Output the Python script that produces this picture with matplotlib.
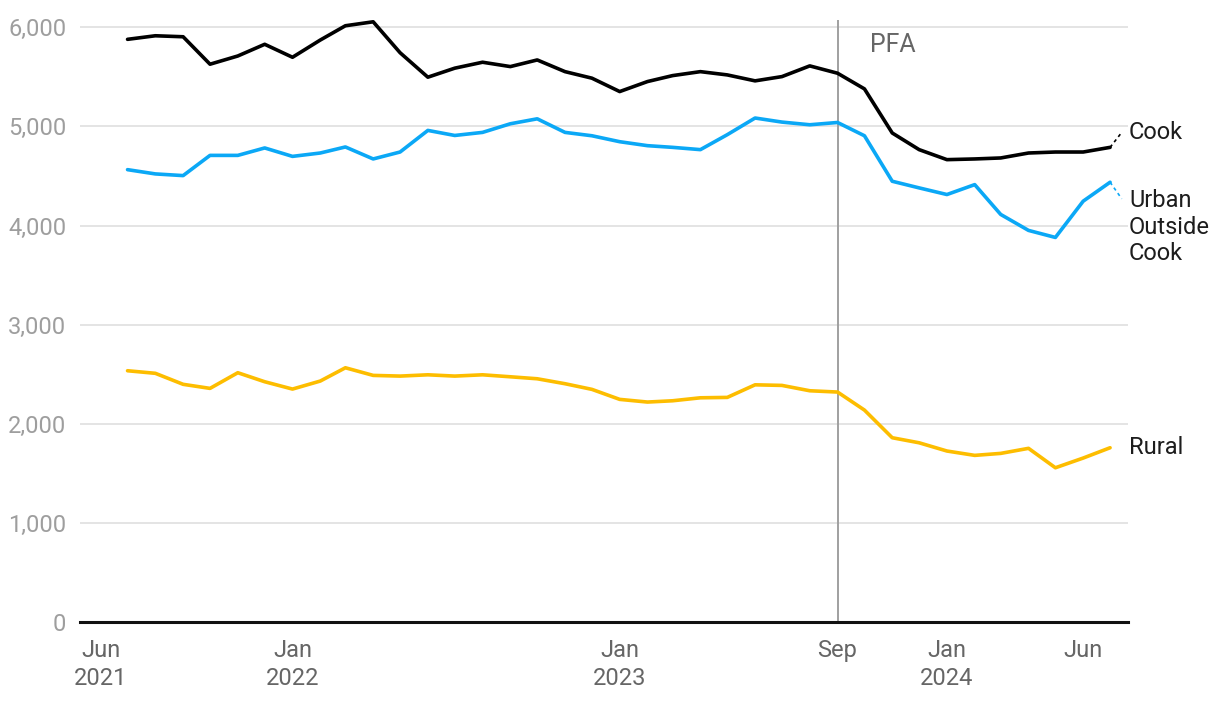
import matplotlib
matplotlib.use("Agg")
import matplotlib.pyplot as plt
import pandas as pd

# Monthly values, Jul 2021 - Jul 2024
months = pd.date_range("2021-07-01", periods=37, freq="MS")

cook = [5879, 5915, 5905, 5628, 5711, 5829, 5698, 5872, 6016, 6056,
        5744, 5497, 5588, 5648, 5604, 5671, 5553, 5487, 5352, 5453,
        5513, 5553, 5520, 5460, 5503, 5611, 5537, 5379, 4934, 4766,
        4665, 4672, 4682, 4732, 4742, 4742, 4789]

urban = [4564, 4521, 4504, 4708, 4708, 4783, 4698, 4732, 4793, 4672,
         4742, 4960, 4909, 4940, 5027, 5077, 4940, 4906, 4846, 4806,
         4789, 4766, 4917, 5085, 5044, 5017, 5040, 4906, 4447, 4380,
         4313, 4413, 4112, 3951, 3880, 4246, 4437]

rural = [2535, 2509, 2398, 2357, 2515, 2424, 2350, 2431, 2565, 2488,
         2481, 2494, 2481, 2494, 2474, 2454, 2404, 2347, 2246, 2219,
         2232, 2262, 2266, 2393, 2387, 2333, 2320, 2138, 1859, 1808,
         1725, 1681, 1701, 1752, 1556, 1654, 1758]

tick_dates = pd.to_datetime(["2021-06-01", "2022-01-01", "2023-01-01",
                             "2023-09-01", "2024-01-01", "2024-06-01"])
tick_labels = ["Jun\n2021", "Jan\n2022", "Jan\n2023", "Sep", "Jan\n2024", "Jun"]
y_ticks = [0, 1000, 2000, 3000, 4000, 5000, 6000]

pfa_date = pd.Timestamp("2023-09-01")

BLACK = "#000000"
BLUE = "#0ba8f6"
YELLOW = "#fdbd00"
GRID = "#e2e2e2"
YTICK = "#9e9e9e"
XTICK = "#666666"
LABEL = "#1d1d1d"


def main():
    plt.rcParams["font.family"] = ["Roboto", "DejaVu Sans"]

    fig = plt.figure(figsize=(12.2, 7.02), dpi=100)
    ax = fig.add_axes([0.0656, 0.114, 0.859, 0.8575])

    # Lines
    ax.plot(months, rural, color=YELLOW, lw=2.6, solid_capstyle="round",
            solid_joinstyle="round", zorder=3)
    ax.plot(months, urban, color=BLUE, lw=2.6, solid_capstyle="round",
            solid_joinstyle="round", zorder=4)
    ax.plot(months, cook, color=BLACK, lw=2.6, solid_capstyle="round",
            solid_joinstyle="round", zorder=5)

    # PFA marker
    ax.axvline(pfa_date, color="#a0a0a0", lw=1.4, zorder=2)
    ax.text(pfa_date + pd.Timedelta(days=36), 5825, "PFA", fontsize=18,
            color="#666666", va="center", ha="left")

    # Axes styling
    ax.set_ylim(0, 6074)
    ax.set_xlim(pd.Timestamp("2021-05-09"), pd.Timestamp("2024-07-21"))
    ax.set_yticks(y_ticks)
    ax.set_yticklabels([f"{v:,}" for v in y_ticks])
    ax.set_xticks(tick_dates)
    ax.set_xticklabels(tick_labels, linespacing=1.3)
    ax.tick_params(axis="both", length=0, labelsize=17)
    ax.tick_params(axis="y", pad=10, colors=YTICK)
    ax.tick_params(axis="x", pad=12, colors=XTICK)
    ax.grid(axis="y", color=GRID, lw=1.3, zorder=0)
    for s in ["top", "right", "left"]:
        ax.spines[s].set_visible(False)
    ax.spines["bottom"].set_color("#111111")
    ax.spines["bottom"].set_linewidth(2.2)
    ax.spines["bottom"].set_zorder(6)

    # Series labels with dotted connectors
    last = months[-1]
    conn_end = pd.Timestamp("2024-07-14")
    ax.plot([last, conn_end], [cook[-1], 4940], color=BLACK, lw=1.2,
            ls=(0, (2, 2)), zorder=5, clip_on=False)
    ax.plot([last, conn_end], [urban[-1], 4270], color=BLUE, lw=1.2,
            ls=(0, (2, 2)), zorder=4, clip_on=False)

    lab_x = 1.001
    trans = ax.get_yaxis_transform()
    ax.text(lab_x, 4940, "Cook", transform=trans, fontsize=17, color=LABEL,
            va="center", ha="left")
    ax.text(lab_x, 3985, "Urban\nOutside\nCook", transform=trans, fontsize=17,
            color=LABEL, va="center", ha="left", linespacing=1.22)
    ax.text(lab_x, rural[-1], "Rural", transform=trans, fontsize=17,
            color=LABEL, va="center", ha="left")

    fig.savefig("out.png", dpi=100)


if __name__ == "__main__":
    main()
